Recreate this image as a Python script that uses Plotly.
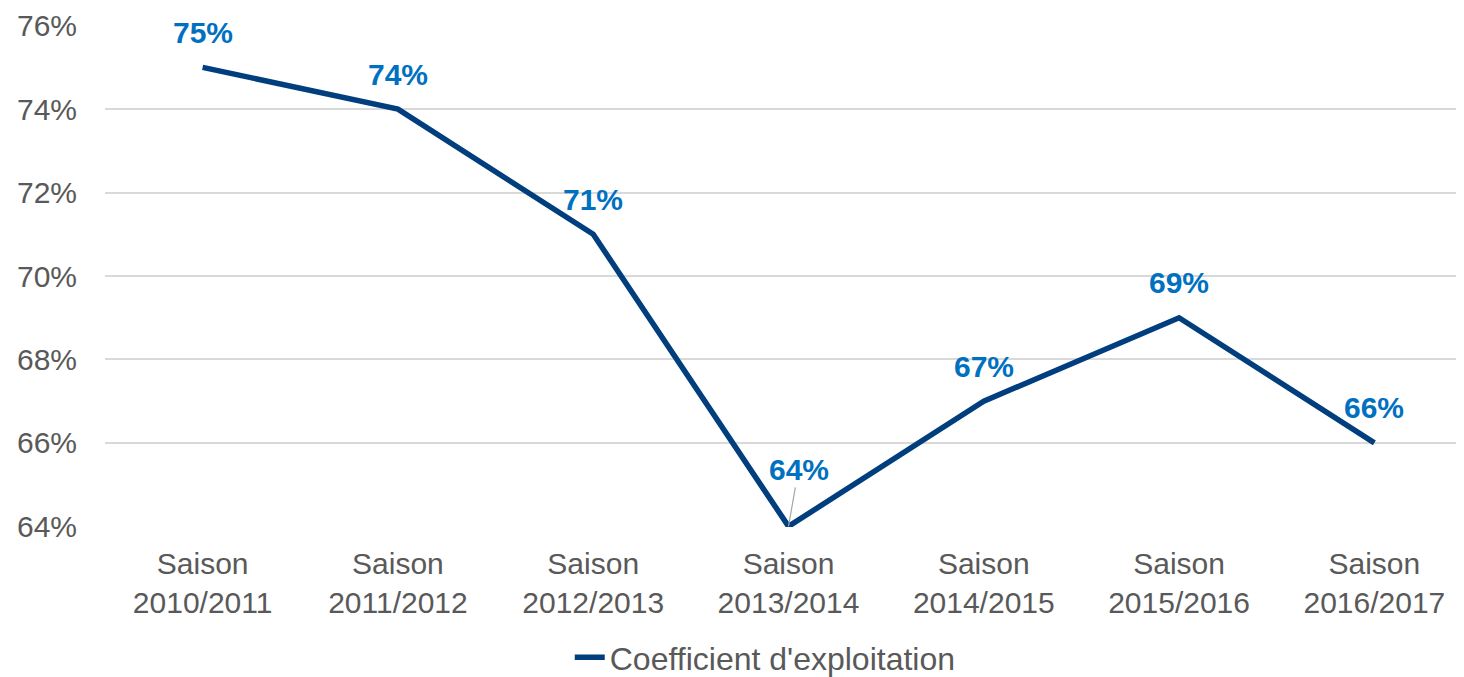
import plotly.graph_objects as go

categories = ["Saison<br>2010/2011", "Saison<br>2011/2012", "Saison<br>2012/2013",
              "Saison<br>2013/2014", "Saison<br>2014/2015", "Saison<br>2015/2016",
              "Saison<br>2016/2017"]
values = [75, 74, 71, 64, 67, 69, 66]
y_ticks = [64, 66, 68, 70, 72, 74, 76]
series_name = "Coefficient d'exploitation"

x_idx = list(range(len(categories)))
FONT = "Liberation Sans, Arial"

fig = go.Figure()
fig.add_trace(go.Scatter(
    x=x_idx, y=values, mode="lines", name=series_name,
    line=dict(color="#003E7E", width=5.5), showlegend=True,
))

for i, v in zip(x_idx, values):
    if v == 64:
        fig.add_annotation(x=i, y=v, text=f"<b>{v}%</b>", showarrow=True,
                           arrowhead=0, arrowwidth=1.2, arrowcolor="#A6A6A6",
                           ax=10, ay=-57, standoff=0,
                           font=dict(size=30, color="#0070C0", family=FONT))
    else:
        fig.add_annotation(x=i, y=v, text=f"<b>{v}%</b>", showarrow=False,
                           yshift=35,
                           font=dict(size=30, color="#0070C0", family=FONT))

fig.update_layout(
    width=1464, height=677,
    margin=dict(l=97, r=0, t=17, b=158, autoexpand=False),
    paper_bgcolor="white", plot_bgcolor="white",
    font=dict(family=FONT, color="#595959", size=30),
    xaxis=dict(tickmode="array", tickvals=x_idx, ticktext=categories,
               range=[-0.5, 6.5], showgrid=False, zeroline=False, automargin=False,
               showline=False, ticks="", ticklabelstandoff=16,
               tickfont=dict(size=30, color="#595959")),
    yaxis=dict(range=[63.985, 76.015], tickvals=y_ticks,
               ticktext=[f"{t}%" for t in y_ticks], automargin=False,
               showgrid=True, gridcolor="#D9D9D9", gridwidth=1.5,
               zeroline=False, showline=False, ticks="", ticklabelstandoff=27,
               tickfont=dict(size=30, color="#595959")),
    legend=dict(orientation="h", x=0.483, xanchor="center", y=-0.205, yanchor="top",
                font=dict(size=32, color="#595959")),
)

fig.write_html("out.html")
